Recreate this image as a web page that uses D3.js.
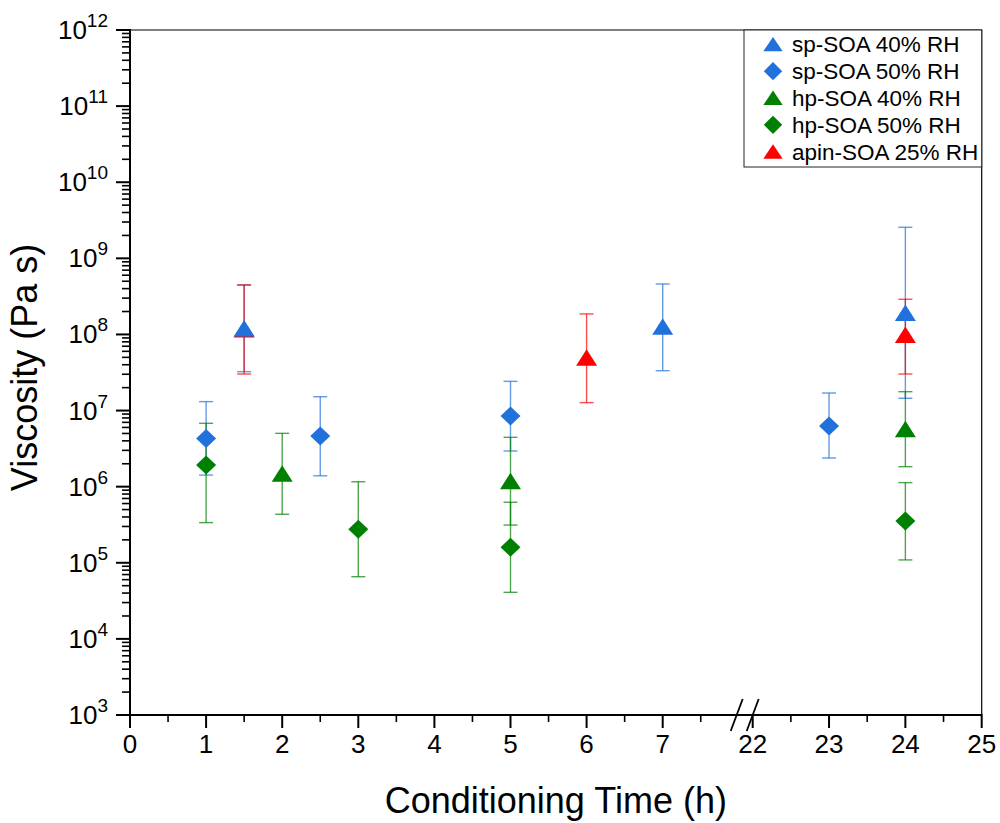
<!DOCTYPE html>
<html>
<head>
<meta charset="utf-8">
<script src="https://cdn.jsdelivr.net/npm/d3@7"></script>
<style>
  body { margin: 0; background: #fff; }
  svg { display: block; font-family: "Liberation Sans", Arial, sans-serif; }
</style>
</head>
<body>
<svg width="1000" height="823"></svg>
<script>
// values
const seriesNames = ['sp-SOA 40% RH', 'sp-SOA 50% RH', 'hp-SOA 40% RH', 'hp-SOA 50% RH', 'apin-SOA 25% RH'];

const sp40X = [1.5, 7, 24];
const sp40Y = [1.20e8, 1.26e8, 1.92e8];
const sp40Lo = [3.24e7, 3.34e7, 1.45e7];
const sp40Hi = [4.47e8, 4.6e8, 2.56e9];

const sp50X = [1, 2.5, 5, 23];
const sp50Y = [4.3e6, 4.63e6, 8.48e6, 6.26e6];
const sp50Lo = [1.42e6, 1.39e6, 2.94e6, 2.38e6];
const sp50Hi = [1.31e7, 1.52e7, 2.42e7, 1.70e7];

const hp40X = [2, 5, 24];
const hp40Y = [1.48e6, 1.18e6, 5.69e6];
const hp40Lo = [4.34e5, 3.13e5, 1.83e6];
const hp40Hi = [5.02e6, 4.45e6, 1.77e7];

const hp50X = [1, 3, 5, 24];
const hp50Y = [1.93e6, 2.75e5, 1.6e5, 3.54e5];
const hp50Lo = [3.37e5, 6.56e4, 4.09e4, 1.09e5];
const hp50Hi = [6.8e6, 1.16e6, 6.24e5, 1.13e6];

const apinX = [1.5, 6, 24];
const apinY = [1.16e8, 4.95e7, 9.84e7];
const apinLo = [3.02e7, 1.27e7, 3.02e7];
const apinHi = [4.47e8, 1.86e8, 2.9e8];

const xMajorTicks = [0, 1, 2, 3, 4, 5, 6, 7, 22, 23, 24, 25];
const xMinorTicks = [0.5, 1.5, 2.5, 3.5, 4.5, 5.5, 6.5, 7.5, 22.5, 23.5, 24.5];
const yExponents = [3, 4, 5, 6, 7, 8, 9, 10, 11, 12];

const blue = '#2171dc', green = '#008000', red = '#ff0000';

const series = [
  { name: seriesNames[0], x: sp40X, y: sp40Y, lo: sp40Lo, hi: sp40Hi, color: blue, shape: 'tri' },
  { name: seriesNames[1], x: sp50X, y: sp50Y, lo: sp50Lo, hi: sp50Hi, color: blue, shape: 'dia' },
  { name: seriesNames[2], x: hp40X, y: hp40Y, lo: hp40Lo, hi: hp40Hi, color: green, shape: 'tri' },
  { name: seriesNames[3], x: hp50X, y: hp50Y, lo: hp50Lo, hi: hp50Hi, color: green, shape: 'dia' },
  { name: seriesNames[4], x: apinX, y: apinY, lo: apinLo, hi: apinHi, color: red, shape: 'tri' }
];

const plotL = 130, plotT = 30, plotR = 981.7, plotB = 715;

const svg = d3.select('svg');

// broken x axis: 0..7.9 then 22..25
const xScale = d3.scaleLinear()
  .domain([0, 7.9, 22, 25])
  .range([plotL, plotL + 7.9 * 76.1, 752.7, plotR]);

const yScale = d3.scaleLog()
  .domain([1e3, 1e12])
  .range([plotB, plotT]);

const triPath = 'M0,-8.5L10.5,8L-10.5,8Z';
const diaPath = 'M0,-9.5L10,0L0,9.5L-10,0Z';

// frame (top + right)
svg.append('path')
  .attr('d', `M${plotL},${plotT}H${plotR}V${plotB}`)
  .attr('fill', 'none')
  .attr('stroke', '#000')
  .attr('stroke-width', 1.2);

// error bars
const errG = svg.append('g');
series.forEach(s => {
  s.x.forEach((xv, i) => {
    const cx = xScale(xv);
    const y1 = yScale(s.hi[i]), y2 = yScale(s.lo[i]);
    const g = errG.append('g')
      .attr('stroke', s.color)
      .attr('stroke-opacity', 0.7)
      .attr('stroke-width', 1.4);
    g.append('line').attr('x1', cx).attr('x2', cx).attr('y1', y1).attr('y2', y2);
    g.append('line').attr('x1', cx - 7).attr('x2', cx + 7).attr('y1', y1).attr('y2', y1);
    g.append('line').attr('x1', cx - 7).attr('x2', cx + 7).attr('y1', y2).attr('y2', y2);
  });
});

// markers (apin first so sp-SOA sits on top at 1.5 h)
const drawOrder = [series[4], series[3], series[2], series[1], series[0]];
drawOrder.forEach(s => {
  svg.append('g').selectAll('path')
    .data(s.x.map((xv, i) => [xv, s.y[i]]))
    .enter()
    .append('path')
    .attr('d', s.shape === 'tri' ? triPath : diaPath)
    .attr('transform', d => `translate(${xScale(d[0])},${yScale(d[1])})`)
    .attr('fill', s.color);
});

// y axis
const yAxis = svg.append('g');
yAxis.append('line')
  .attr('x1', plotL).attr('x2', plotL)
  .attr('y1', plotT).attr('y2', plotB)
  .attr('stroke', '#000').attr('stroke-width', 2);

const yMinor = [];
yExponents.slice(0, -1).forEach(e => {
  for (let m = 2; m <= 9; m++) yMinor.push(m * Math.pow(10, e));
});

yAxis.selectAll('.ymin')
  .data(yMinor)
  .enter().append('line')
  .attr('x1', plotL - 8).attr('x2', plotL)
  .attr('y1', d => yScale(d)).attr('y2', d => yScale(d))
  .attr('stroke', '#000').attr('stroke-width', 1.6);

yAxis.selectAll('.ymaj')
  .data(yExponents)
  .enter().append('line')
  .attr('x1', plotL - 14).attr('x2', plotL + 1)
  .attr('y1', d => yScale(Math.pow(10, d))).attr('y2', d => yScale(Math.pow(10, d)))
  .attr('stroke', '#000').attr('stroke-width', 2);

const yLabels = yAxis.selectAll('.ylab')
  .data(yExponents)
  .enter().append('text')
  .attr('x', 108)
  .attr('y', d => yScale(Math.pow(10, d)) + 9)
  .attr('text-anchor', 'end')
  .attr('font-size', 26)
  .attr('fill', '#000');
yLabels.append('tspan').text('10');
yLabels.append('tspan')
  .attr('font-size', 19)
  .attr('dy', -12)
  .text(d => d);

// x axis
const xAxis = svg.append('g');
xAxis.append('line')
  .attr('x1', plotL - 14).attr('x2', plotR)
  .attr('y1', plotB).attr('y2', plotB)
  .attr('stroke', '#000').attr('stroke-width', 2);

xAxis.selectAll('.xmaj')
  .data(xMajorTicks)
  .enter().append('line')
  .attr('x1', d => xScale(d)).attr('x2', d => xScale(d))
  .attr('y1', plotB - 1).attr('y2', plotB + 13)
  .attr('stroke', '#000').attr('stroke-width', 2);

xAxis.selectAll('.xmin')
  .data(xMinorTicks)
  .enter().append('line')
  .attr('x1', d => xScale(d)).attr('x2', d => xScale(d))
  .attr('y1', plotB).attr('y2', plotB + 7)
  .attr('stroke', '#000').attr('stroke-width', 1.6);

xAxis.selectAll('.xlab')
  .data(xMajorTicks)
  .enter().append('text')
  .attr('x', d => xScale(d))
  .attr('y', 753)
  .attr('text-anchor', 'middle')
  .attr('font-size', 26)
  .attr('fill', '#000')
  .text(d => d);

// axis break marks
[xScale(22) - 16, xScale(22)].forEach(bx => {
  xAxis.append('line')
    .attr('x1', bx - 6).attr('y1', plotB + 16)
    .attr('x2', bx + 6).attr('y2', plotB - 16)
    .attr('stroke', '#000').attr('stroke-width', 1.8);
});

// titles
svg.append('text')
  .attr('x', (plotL + plotR) / 2)
  .attr('y', 813)
  .attr('text-anchor', 'middle')
  .attr('font-size', 36)
  .text('Conditioning Time (h)');

svg.append('text')
  .attr('transform', `translate(37, ${(plotT + plotB) / 2 - 5}) rotate(-90)`)
  .attr('text-anchor', 'middle')
  .attr('font-size', 36)
  .text('Viscosity (Pa s)');

// legend
const legend = svg.append('g');
legend.append('rect')
  .attr('x', 744).attr('y', plotT)
  .attr('width', plotR - 744).attr('height', 137)
  .attr('fill', '#fff')
  .attr('stroke', '#222').attr('stroke-width', 1);

series.forEach((s, i) => {
  const ly = 44.3 + i * 26.85;
  legend.append('path')
    .attr('d', s.shape === 'tri' ? triPath : diaPath)
    .attr('transform', `translate(773,${ly}) scale(0.92,${s.shape === 'tri' ? 0.87 : 0.97})`)
    .attr('fill', s.color);
  legend.append('text')
    .attr('x', 792)
    .attr('y', ly + 8)
    .attr('font-size', 22.5)
    .text(s.name);
});
</script>
</body>
</html>
